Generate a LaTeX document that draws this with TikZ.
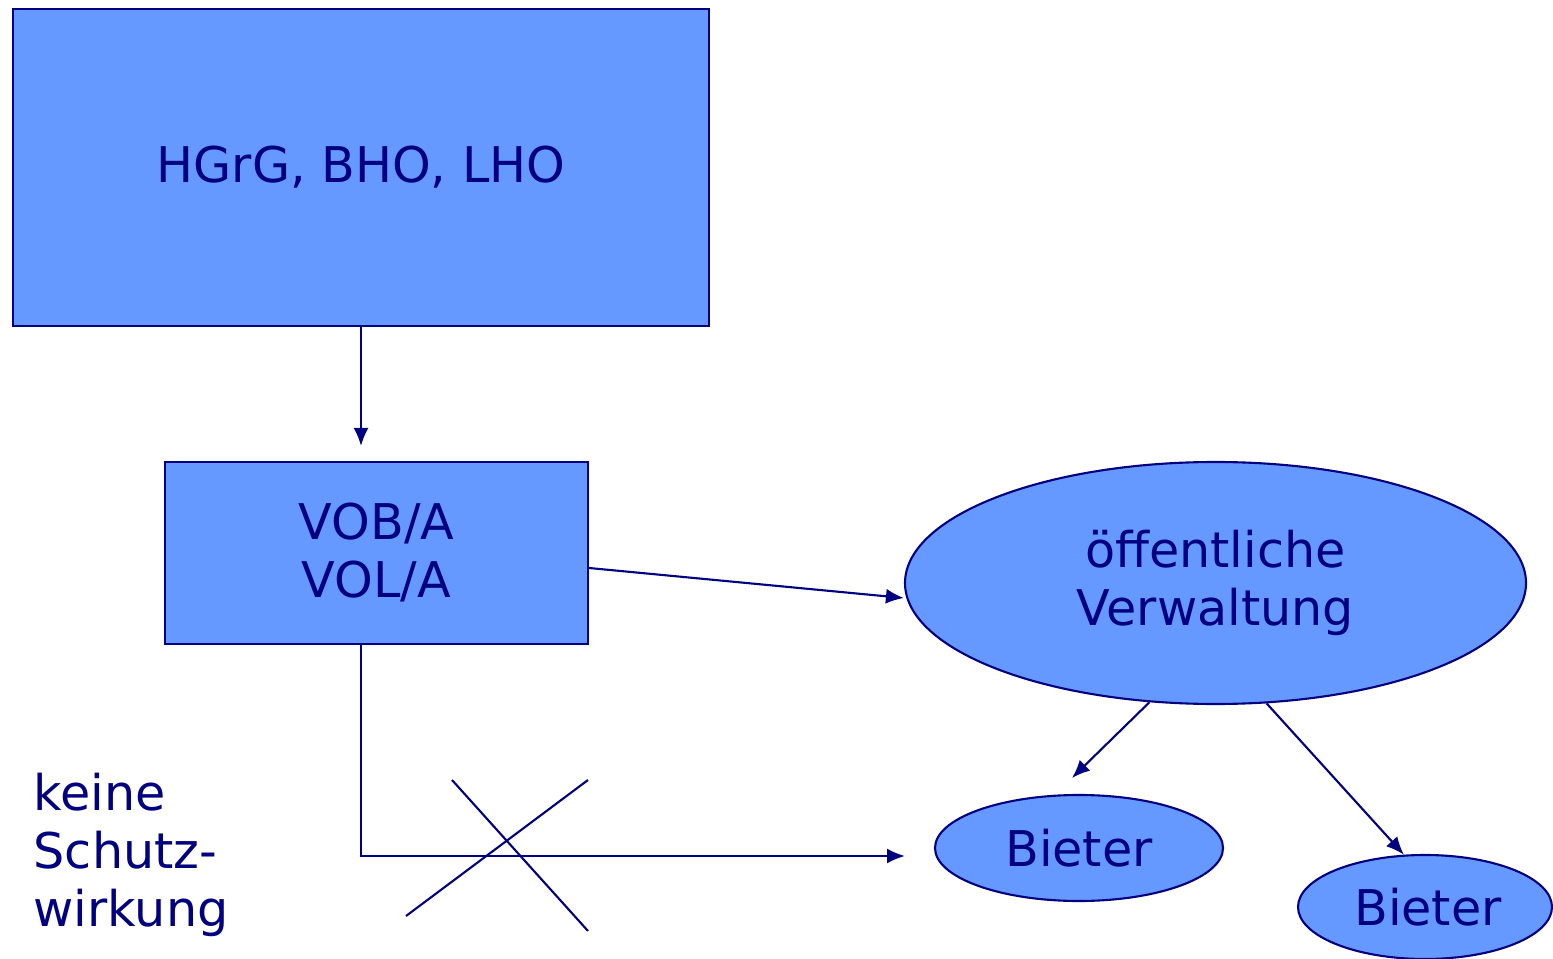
\documentclass[tikz,border=0pt]{standalone}
\usepackage{fontspec}
\setmainfont{DejaVu Sans}
\usetikzlibrary{arrows.meta,shapes.geometric}

\definecolor{ink}{HTML}{000080}
\definecolor{boxblue}{HTML}{6699FF}

\tikzset{
	block/.style={draw=ink, fill=boxblue, line width=0.6pt, inner sep=0pt, text=ink, align=center, font=\fontsize{14}{16.5}\selectfont},
	oval/.style={block, ellipse},
	arr/.style={draw=ink, line width=0.6pt, -{Latex[length=0.18cm,width=0.15cm]}},
}

\begin{document}
\begin{tikzpicture}
		\useasboundingbox (0,0) rectangle (15.53,9.58);
		
		\node[block, minimum width=6.96cm, minimum height=3.17cm] (haushalt) at (3.61,7.905) {\raisebox{-0.05cm}{HGrG, BHO, LHO}};
		\node[block, minimum width=4.23cm, minimum height=1.82cm] (vergabe) at (3.765,4.05) {VOB/A\\VOL/A};
		\node[oval, minimum width=6.21cm, minimum height=2.42cm] (verwaltung) at (12.155,3.75) {öffentliche\\Verwaltung};
		\node[oval, minimum width=2.88cm, minimum height=1.06cm] (bieterA) at (10.79,1.10) {Bieter};
		\node[oval, minimum width=2.54cm, minimum height=1.04cm] (bieterB) at (14.25,0.51) {\hspace{0.06cm}Bieter};
		\node[text=ink, align=left, anchor=north west, inner sep=0pt, font=\fontsize{14}{16.5}\selectfont] (schutz) at (0.33,1.86) {keine\\Schutz-\\wirkung};
		\coordinate (ende) at (9.05,1.02);
		
		\draw[arr, shorten >=0.15cm] (haushalt.south) -- (haushalt.south |- vergabe.north);
		\draw[arr] ([yshift=-0.15cm]vergabe.east) -- ([yshift=-0.15cm]verwaltung.west);
		\draw[arr] ([xshift=-0.155cm]vergabe.south) |- (ende);
		\draw[arr] (verwaltung.241) -- ([shift={(-0.07cm,0.16cm)}]bieterA.north);
		\draw[arr] (verwaltung.293) -- (bieterB.112);
		
		\draw[ink, line width=0.6pt] (4.52,1.78) -- (5.88,0.27);
		\draw[ink, line width=0.6pt] (4.06,0.42) -- (5.88,1.78);
	\end{tikzpicture}
\end{document}
